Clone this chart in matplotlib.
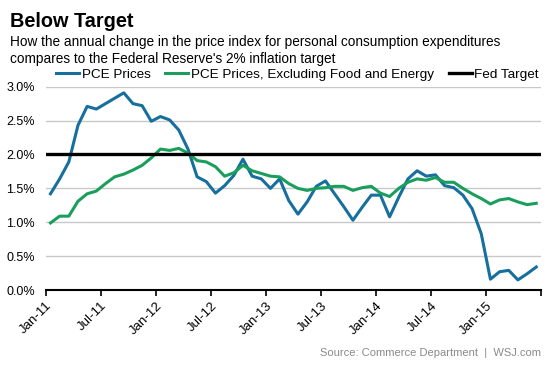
import matplotlib

matplotlib.use("Agg")
import matplotlib.pyplot as plt
import numpy as np

plt.rcParams["font.family"] = ["Liberation Sans", "DejaVu Sans"]

# monthly, Jan-11 .. Jun-15
pce_prices = [
    1.42, 1.64, 1.89, 2.43, 2.71, 2.67, 2.75, 2.83, 2.91, 2.75, 2.72, 2.49,
    2.56, 2.51, 2.36, 2.08, 1.67, 1.60, 1.43, 1.54, 1.69, 1.93, 1.68, 1.64,
    1.50, 1.64, 1.32, 1.12, 1.30, 1.53, 1.61, 1.42, 1.23, 1.03, 1.22, 1.40,
    1.40, 1.08, 1.37, 1.64, 1.76, 1.68, 1.70, 1.54, 1.51, 1.40, 1.20, 0.83,
    0.16, 0.27, 0.29, 0.15, 0.24, 0.34,
]
pce_core = [
    0.99, 1.09, 1.09, 1.31, 1.42, 1.46, 1.57, 1.67, 1.71, 1.77, 1.84, 1.95,
    2.08, 2.06, 2.09, 2.02, 1.91, 1.89, 1.82, 1.68, 1.73, 1.84, 1.76, 1.72,
    1.68, 1.67, 1.57, 1.50, 1.47, 1.50, 1.51, 1.53, 1.53, 1.47, 1.51, 1.53,
    1.43, 1.38, 1.50, 1.59, 1.64, 1.62, 1.66, 1.59, 1.59, 1.50, 1.42, 1.35,
    1.27, 1.33, 1.35, 1.30, 1.26, 1.28,
]
fed_target = 2.0
tick_labels = ["Jan-11", "Jul-11", "Jan-12", "Jul-12", "Jan-13",
               "Jul-13", "Jan-14", "Jul-14", "Jan-15", ""]
y_ticks = [0.0, 0.5, 1.0, 1.5, 2.0, 2.5, 3.0]

BLUE = "#166f9c"
GREEN = "#1a9e5c"

fig = plt.figure(figsize=(5.53, 3.69), dpi=100)
ax = fig.add_axes([0.083, 0.214, 0.895, 0.551])

x = np.arange(len(pce_prices))
ax.plot(x, pce_prices, color=BLUE, linewidth=2.2, label="PCE Prices", zorder=3)
ax.plot(x, pce_core, color=GREEN, linewidth=2.2,
        label="PCE Prices, Excluding Food and Energy", zorder=3)
ax.plot([-0.5, len(x) - 0.5], [fed_target, fed_target], color="black",
        linewidth=2.4, label="Fed Target", zorder=4)

ax.set_xlim(-0.5, len(x) - 0.5)
ax.set_ylim(0, 3.0)
ax.set_yticks(y_ticks)
ax.set_yticklabels([f"{v:.1f}%" for v in y_ticks], fontsize=9)
ax.set_xticks(np.arange(-0.5, len(x), 6))
ax.set_xticklabels(tick_labels, rotation=45, ha="right", rotation_mode="anchor",
                   fontsize=9.5)
ax.tick_params(axis="y", length=0, pad=8)
ax.tick_params(axis="x", length=4, width=1.2, direction="out", pad=3)
ax.grid(axis="y", color="#c8c8c8", linewidth=1)
ax.set_axisbelow(True)
for side in ["left", "right", "top"]:
    ax.spines[side].set_visible(False)
ax.spines["bottom"].set_linewidth(1.5)
ax.spines["bottom"].set_zorder(5)

fig.legend(loc="center", bbox_to_anchor=(0.538, 0.798), ncol=3, frameon=False,
           fontsize=9.7, handlelength=1.7, handletextpad=0.2, columnspacing=1.1,
           borderaxespad=0)

fig.text(0.018, 0.968, "Below Target", fontsize=14.3, fontweight="bold", va="top")
fig.text(0.018, 0.904,
         "How the annual change in the price index for personal consumption expenditures\n"
         "compares to the Federal Reserve's 2% inflation target",
         fontsize=9.8, linespacing=1.2, va="top")
fig.text(0.978, 0.035, "Source: Commerce Department  |  WSJ.com",
         fontsize=8, color="#8a8a8a", ha="right")

fig.savefig("out.png")
